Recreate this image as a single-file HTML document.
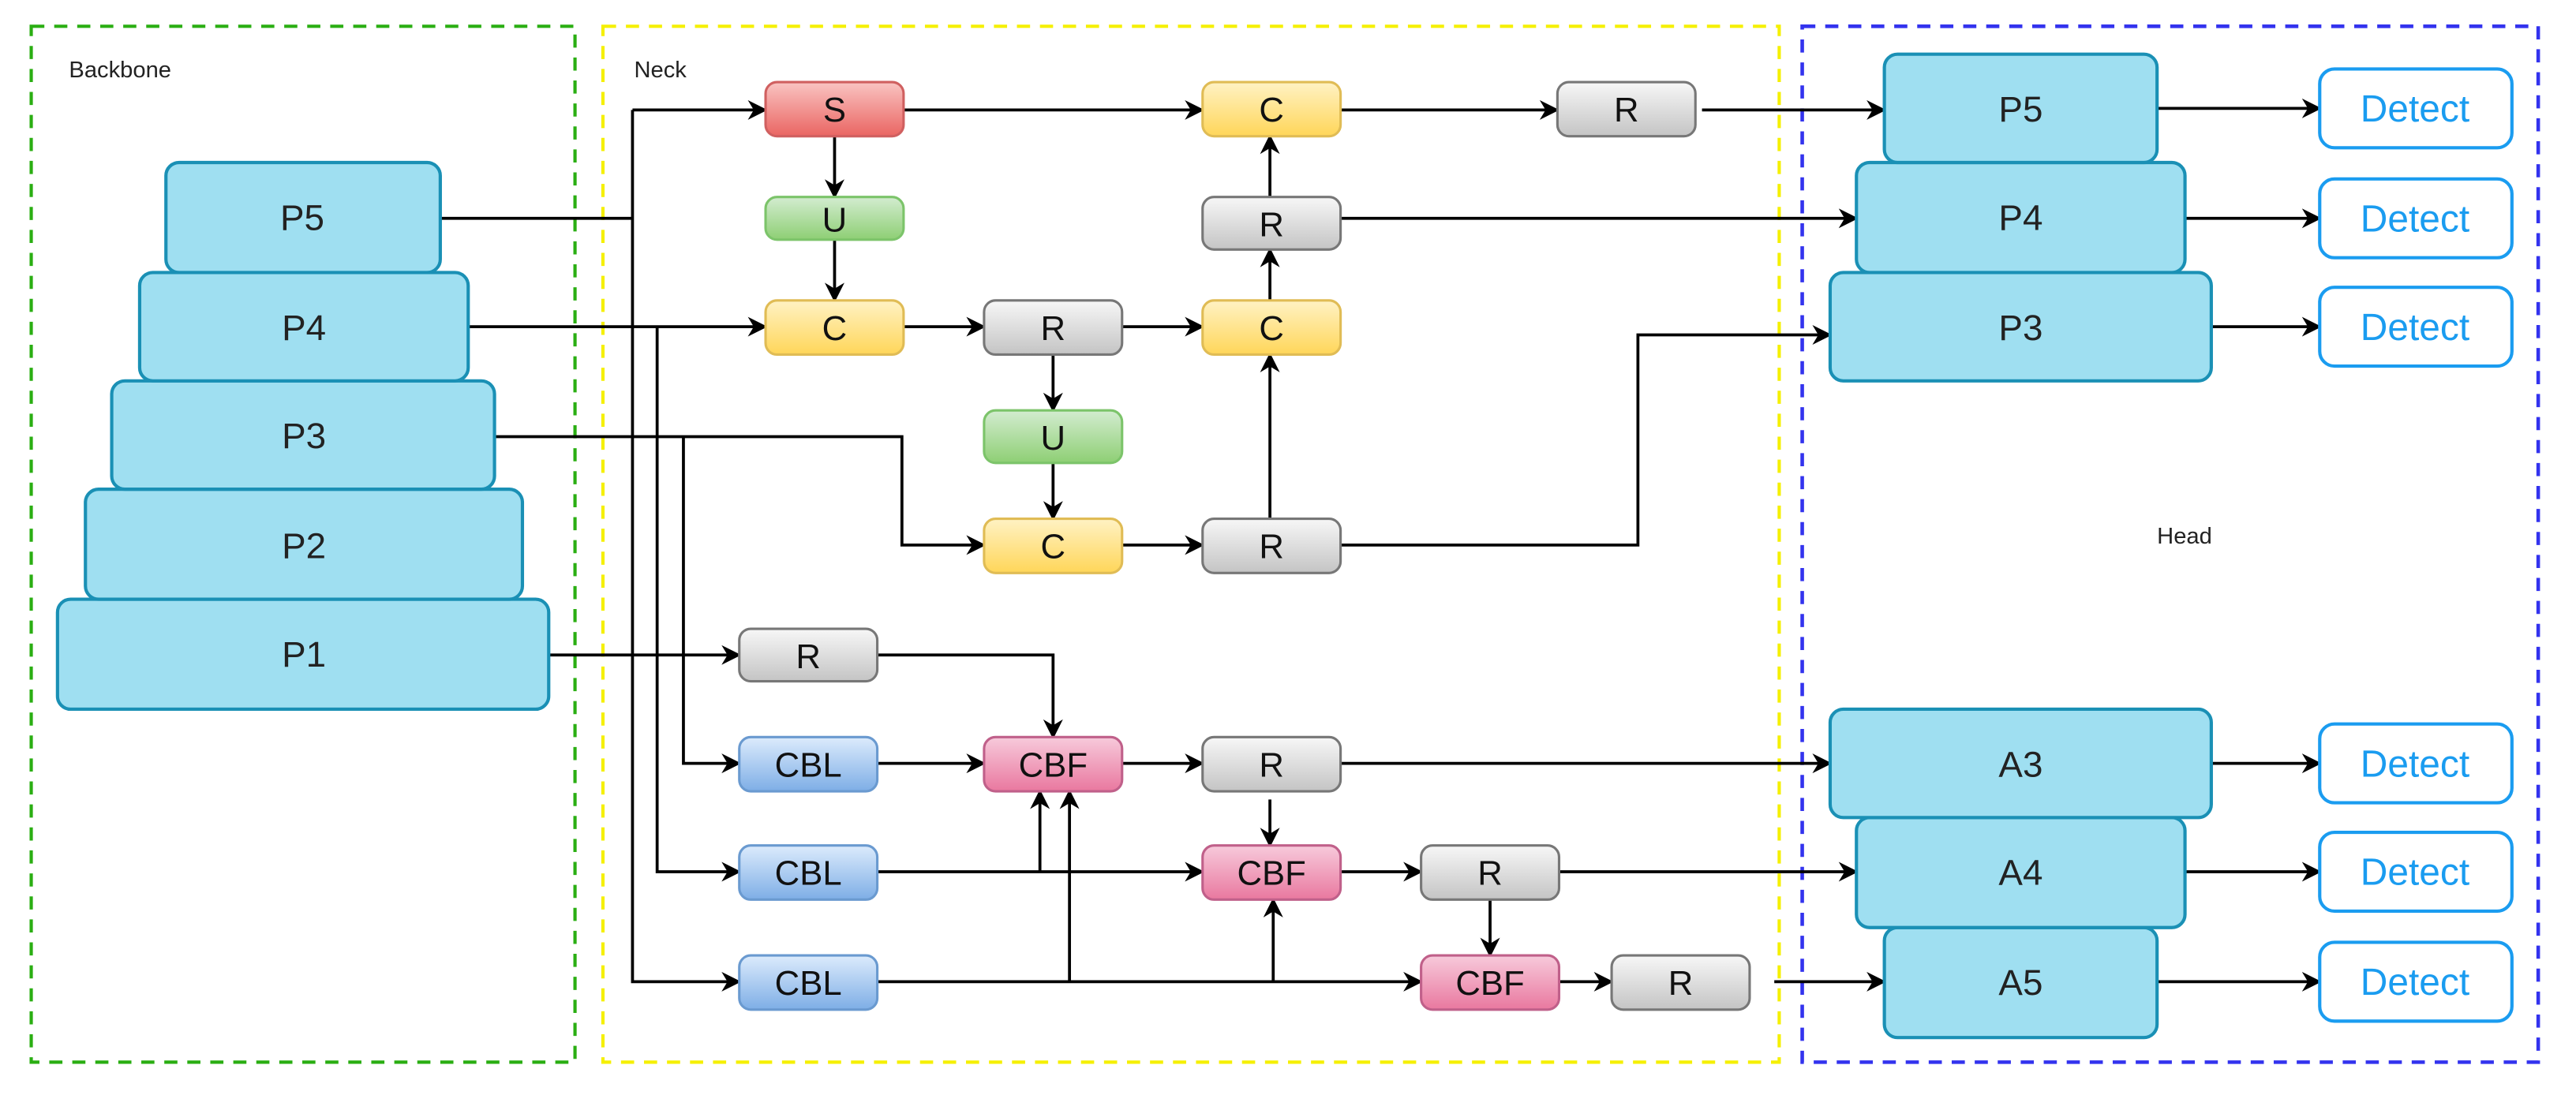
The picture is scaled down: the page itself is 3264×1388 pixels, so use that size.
<!DOCTYPE html>
<html><head><meta charset="utf-8"><style>html,body{margin:0;padding:0;background:#fff}svg{display:block}</style></head><body>
<svg width="3264" height="1388" viewBox="0 0 1568 667" preserveAspectRatio="none" xmlns="http://www.w3.org/2000/svg" font-family="Liberation Sans, sans-serif">
<defs>
<marker id="a" viewBox="0 0 10 10" refX="9" refY="5" markerWidth="14" markerHeight="12" markerUnits="userSpaceOnUse" orient="auto"><path d="M0,0 L10,5 L0,10 L3,5 Z" fill="#000"/></marker>
<linearGradient id="gG" x1="0" y1="0" x2="0" y2="1"><stop offset="0" stop-color="#f7f7f7"/><stop offset="1" stop-color="#c4c4c4"/></linearGradient>
<linearGradient id="gY" x1="0" y1="0" x2="0" y2="1"><stop offset="0" stop-color="#fff2c4"/><stop offset="1" stop-color="#ffd659"/></linearGradient>
<linearGradient id="gR" x1="0" y1="0" x2="0" y2="1"><stop offset="0" stop-color="#f9c4c2"/><stop offset="1" stop-color="#ea6562"/></linearGradient>
<linearGradient id="gN" x1="0" y1="0" x2="0" y2="1"><stop offset="0" stop-color="#d3ecd0"/><stop offset="1" stop-color="#8ecf74"/></linearGradient>
<linearGradient id="gB" x1="0" y1="0" x2="0" y2="1"><stop offset="0" stop-color="#dcebfc"/><stop offset="1" stop-color="#7eaee6"/></linearGradient>
<linearGradient id="gP" x1="0" y1="0" x2="0" y2="1"><stop offset="0" stop-color="#f7cadb"/><stop offset="1" stop-color="#e9789f"/></linearGradient>
</defs>
<rect x="19" y="16" width="331" height="631" fill="none" stroke="#2aae12" stroke-width="2" stroke-dasharray="8,6"/>
<rect x="367" y="16" width="716" height="631" fill="none" stroke="#f5f000" stroke-width="2" stroke-dasharray="8,6"/>
<rect x="1097" y="16" width="448" height="631" fill="none" stroke="#3333ee" stroke-width="2.2" stroke-dasharray="8,6"/>
<g font-size="14" fill="#222"><text x="42" y="47">Backbone</text><text x="386" y="47">Neck</text><text x="1313" y="331">Head</text></g>
<g fill="none" stroke="#000" stroke-width="1.8">
<path d="M268,133 H385"/>
<path d="M385,67 V598 H450" marker-end="url(#a)"/>
<path d="M385,67 H466" marker-end="url(#a)"/>
<path d="M285,199 H466" marker-end="url(#a)"/>
<path d="M400,199 V531 H450" marker-end="url(#a)"/>
<path d="M301,266 H549 V332 H599" marker-end="url(#a)"/>
<path d="M416,266 V465 H450" marker-end="url(#a)"/>
<path d="M334,399 H450" marker-end="url(#a)"/>
<path d="M508,83 V120" marker-end="url(#a)"/>
<path d="M508,146 V183" marker-end="url(#a)"/>
<path d="M550,67 H732" marker-end="url(#a)"/>
<path d="M816,67 H948" marker-end="url(#a)"/>
<path d="M1036,67 H1147" marker-end="url(#a)"/>
<path d="M550,199 H599" marker-end="url(#a)"/>
<path d="M683,199 H732" marker-end="url(#a)"/>
<path d="M641,216 V250" marker-end="url(#a)"/>
<path d="M641,282 V316" marker-end="url(#a)"/>
<path d="M683,332 H732" marker-end="url(#a)"/>
<path d="M773,316 V216" marker-end="url(#a)"/>
<path d="M773,183 V152" marker-end="url(#a)"/>
<path d="M773,120 V83" marker-end="url(#a)"/>
<path d="M816,133 H1130" marker-end="url(#a)"/>
<path d="M816,332 H997 V204 H1114" marker-end="url(#a)"/>
<path d="M534,399 H641 V449" marker-end="url(#a)"/>
<path d="M534,465 H599" marker-end="url(#a)"/>
<path d="M683,465 H732" marker-end="url(#a)"/>
<path d="M816,465 H1114" marker-end="url(#a)"/>
<path d="M773,487 V515" marker-end="url(#a)"/>
<path d="M534,531 H732" marker-end="url(#a)"/>
<path d="M633,531 V482" marker-end="url(#a)"/>
<path d="M534,598 H865" marker-end="url(#a)"/>
<path d="M651,598 V482" marker-end="url(#a)"/>
<path d="M775,598 V548" marker-end="url(#a)"/>
<path d="M816,531 H865" marker-end="url(#a)"/>
<path d="M949,531 H1130" marker-end="url(#a)"/>
<path d="M907,548 V582" marker-end="url(#a)"/>
<path d="M949,598 H981" marker-end="url(#a)"/>
<path d="M1080,598 H1147" marker-end="url(#a)"/>
<path d="M1313,66 H1412" marker-end="url(#a)"/>
<path d="M1330,133 H1412" marker-end="url(#a)"/>
<path d="M1346,199 H1412" marker-end="url(#a)"/>
<path d="M1346,465 H1412" marker-end="url(#a)"/>
<path d="M1330,531 H1412" marker-end="url(#a)"/>
<path d="M1313,598 H1412" marker-end="url(#a)"/>
</g>
<g fill="#9fdff1" stroke="#1a90b5" stroke-width="2">
<rect x="35" y="365" width="299" height="67" rx="8"/>
<rect x="52" y="298" width="266" height="67" rx="8"/>
<rect x="68" y="232" width="233" height="66" rx="8"/>
<rect x="85" y="166" width="200" height="66" rx="8"/>
<rect x="101" y="99" width="167" height="67" rx="8"/>
<rect x="1114" y="166" width="232" height="66" rx="8"/>
<rect x="1130" y="99" width="200" height="67" rx="8"/>
<rect x="1147" y="33" width="166" height="66" rx="8"/>
<rect x="1147" y="565" width="166" height="67" rx="8"/>
<rect x="1130" y="498" width="200" height="67" rx="8"/>
<rect x="1114" y="432" width="232" height="66" rx="8"/>
</g>
<g font-size="22" fill="#222" text-anchor="middle">
<text x="184" y="140">P5</text><text x="185" y="207">P4</text><text x="185" y="273">P3</text><text x="185" y="340">P2</text><text x="185" y="406">P1</text>
<text x="1230" y="74">P5</text><text x="1230" y="140">P4</text><text x="1230" y="207">P3</text>
<text x="1230" y="473">A3</text><text x="1230" y="539">A4</text><text x="1230" y="606">A5</text>
</g>
<g fill="#fff" stroke="#1a9cf0" stroke-width="2">
<rect x="1412" y="42" width="117" height="48" rx="9"/><rect x="1412" y="109" width="117" height="48" rx="9"/><rect x="1412" y="175" width="117" height="48" rx="9"/>
<rect x="1412" y="441" width="117" height="48" rx="9"/><rect x="1412" y="507" width="117" height="48" rx="9"/><rect x="1412" y="574" width="117" height="48" rx="9"/>
</g>
<g font-size="23" fill="#1a9cf0" text-anchor="middle">
<text x="1470" y="74">Detect</text><text x="1470" y="141">Detect</text><text x="1470" y="207">Detect</text>
<text x="1470" y="473">Detect</text><text x="1470" y="539">Detect</text><text x="1470" y="606">Detect</text>
</g>
<g stroke-width="1.5">
<rect x="466" y="50" width="84" height="33" rx="7" fill="url(#gR)" stroke="#d06060"/>
<rect x="466" y="120" width="84" height="26" rx="7" fill="url(#gN)" stroke="#7cc46a"/>
<rect x="466" y="183" width="84" height="33" rx="7" fill="url(#gY)" stroke="#e0bc55"/>
<rect x="599" y="183" width="84" height="33" rx="7" fill="url(#gG)" stroke="#777"/>
<rect x="599" y="250" width="84" height="32" rx="7" fill="url(#gN)" stroke="#7cc46a"/>
<rect x="599" y="316" width="84" height="33" rx="7" fill="url(#gY)" stroke="#e0bc55"/>
<rect x="732" y="316" width="84" height="33" rx="7" fill="url(#gG)" stroke="#777"/>
<rect x="732" y="50" width="84" height="33" rx="7" fill="url(#gY)" stroke="#e0bc55"/>
<rect x="732" y="120" width="84" height="32" rx="7" fill="url(#gG)" stroke="#777"/>
<rect x="732" y="183" width="84" height="33" rx="7" fill="url(#gY)" stroke="#e0bc55"/>
<rect x="948" y="50" width="84" height="33" rx="7" fill="url(#gG)" stroke="#777"/>
<rect x="450" y="383" width="84" height="32" rx="7" fill="url(#gG)" stroke="#777"/>
<rect x="450" y="449" width="84" height="33" rx="7" fill="url(#gB)" stroke="#6a9ad0"/>
<rect x="599" y="449" width="84" height="33" rx="7" fill="url(#gP)" stroke="#c0608a"/>
<rect x="732" y="449" width="84" height="33" rx="7" fill="url(#gG)" stroke="#777"/>
<rect x="450" y="515" width="84" height="33" rx="7" fill="url(#gB)" stroke="#6a9ad0"/>
<rect x="732" y="515" width="84" height="33" rx="7" fill="url(#gP)" stroke="#c0608a"/>
<rect x="865" y="515" width="84" height="33" rx="7" fill="url(#gG)" stroke="#777"/>
<rect x="450" y="582" width="84" height="33" rx="7" fill="url(#gB)" stroke="#6a9ad0"/>
<rect x="865" y="582" width="84" height="33" rx="7" fill="url(#gP)" stroke="#c0608a"/>
<rect x="981" y="582" width="84" height="33" rx="7" fill="url(#gG)" stroke="#777"/>
</g>
<g font-size="21" fill="#111" text-anchor="middle">
<text x="508" y="74">S</text><text x="508" y="141">U</text><text x="508" y="207">C</text>
<text x="641" y="207">R</text><text x="641" y="274">U</text><text x="641" y="340">C</text>
<text x="774" y="340">R</text><text x="774" y="74">C</text><text x="774" y="144">R</text><text x="774" y="207">C</text>
<text x="990" y="74">R</text><text x="492" y="407">R</text>
<text x="492" y="473">CBL</text><text x="641" y="473">CBF</text><text x="774" y="473">R</text>
<text x="492" y="539">CBL</text><text x="774" y="539">CBF</text><text x="907" y="539">R</text>
<text x="492" y="606">CBL</text><text x="907" y="606">CBF</text><text x="1023" y="606">R</text>
</g>
</svg>
</body></html>
